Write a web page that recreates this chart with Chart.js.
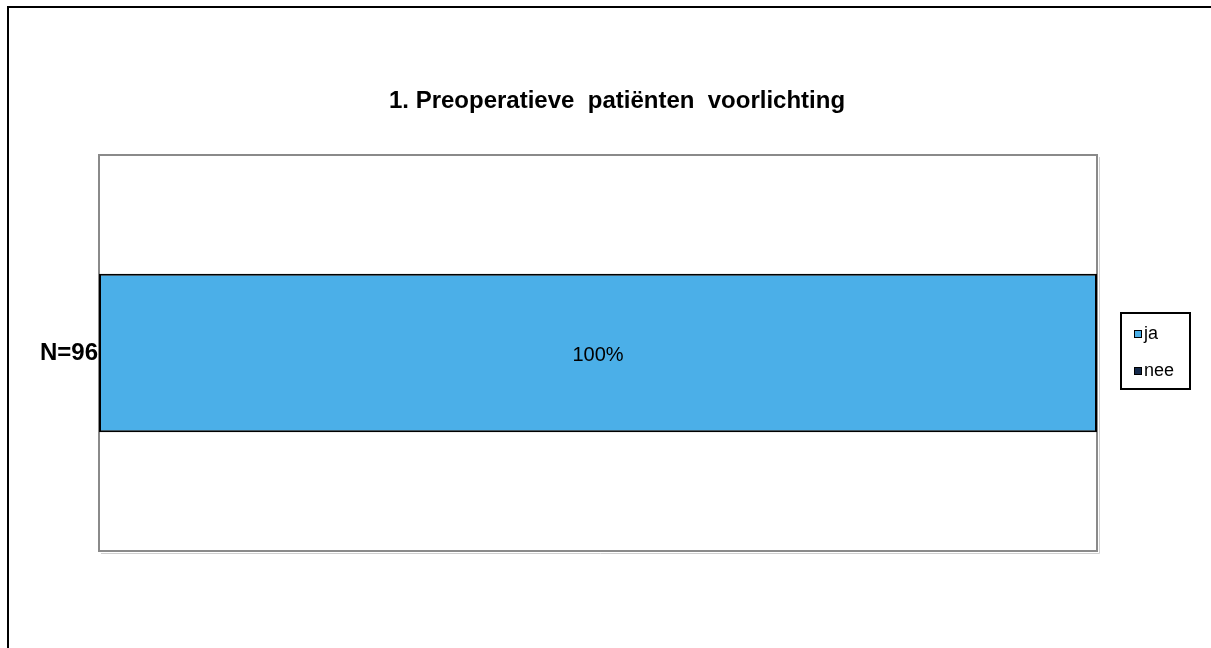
<!DOCTYPE html>
<html>
<head>
<meta charset="utf-8">
<style>
  html, body { margin: 0; padding: 0; background: #ffffff; }
  #wrap { width: 1211px; height: 648px; position: relative; }
</style>
<script src="https://cdn.jsdelivr.net/npm/chart.js@4/dist/chart.umd.min.js"></script>
</head>
<body>
<div id="wrap"><canvas id="c" width="1211" height="648"></canvas></div>
<script>
const chartTitle = "1. Preoperatieve  patiënten  voorlichting";
const categories = ["N=96"];
const seriesNames = ["ja", "nee"];
const jaValues = [100];
const neeValues = [0];
const seriesColors = ["#4BAFE8", "#14294A"];

const FONT = "Arial, 'Liberation Sans', sans-serif";

const framePlugin = {
  id: 'framePlugin',
  beforeDatasetsDraw(chart) {
    const ctx = chart.ctx;
    const a = chart.chartArea;
    ctx.save();
    // outer frame
    ctx.strokeStyle = '#000';
    ctx.lineWidth = 2;
    ctx.strokeRect(8, 7, 1240, 680);
    // plot area shadow + border
    ctx.strokeStyle = '#d0d0d0';
    ctx.lineWidth = 1;
    ctx.beginPath();
    ctx.moveTo(a.right + 2.5, a.top + 2);
    ctx.lineTo(a.right + 2.5, a.bottom + 2.5);
    ctx.lineTo(a.left + 2, a.bottom + 2.5);
    ctx.stroke();
    ctx.strokeStyle = '#8a8a8a';
    ctx.lineWidth = 2;
    ctx.strokeRect(a.left, a.top, a.right - a.left, a.bottom - a.top);
    // title
    ctx.fillStyle = '#000';
    ctx.font = 'bold 24px ' + FONT;
    ctx.textAlign = 'center';
    ctx.textBaseline = 'middle';
    ctx.fillText(chartTitle, 617, 101);
    ctx.restore();
  },
  afterDatasetsDraw(chart) {
    const ctx = chart.ctx;
    ctx.save();
    // value labels
    ctx.font = '20px ' + FONT;
    ctx.fillStyle = '#000';
    ctx.textAlign = 'center';
    ctx.textBaseline = 'middle';
    chart.data.datasets.forEach((ds, di) => {
      const meta = chart.getDatasetMeta(di);
      meta.data.forEach((el, i) => {
        const v = ds.data[i];
        if (!v) return;
        const cx = (el.x + el.base) / 2;
        ctx.fillText(v + '%', cx, el.y + 2);
      });
    });
    // legend
    const lx = 1121, ly = 313, lw = 69, lh = 76;
    ctx.strokeStyle = '#000';
    ctx.lineWidth = 2;
    ctx.strokeRect(lx, ly, lw, lh);
    ctx.font = '18px ' + FONT;
    ctx.textAlign = 'left';
    chart.data.datasets.forEach((ds, di) => {
      const cy = 334 + di * 37;
      ctx.fillStyle = ds.backgroundColor;
      ctx.fillRect(1134, cy - 4, 8, 8);
      ctx.lineWidth = 1;
      ctx.strokeStyle = '#000';
      ctx.strokeRect(1134.5, cy - 3.5, 7, 7);
      ctx.fillStyle = '#000';
      ctx.fillText(ds.label, 1144, cy);
    });
    ctx.restore();
  }
};

new Chart(document.getElementById('c'), {
  type: 'bar',
  data: {
    labels: categories,
    datasets: [
      { label: seriesNames[0], data: jaValues, backgroundColor: seriesColors[0], borderColor: '#000', borderWidth: 2, borderSkipped: false },
      { label: seriesNames[1], data: neeValues, backgroundColor: seriesColors[1], borderColor: '#000', borderWidth: 2, borderSkipped: false }
    ]
  },
  options: {
    indexAxis: 'y',
    responsive: false,
    animation: false,
    devicePixelRatio: 1,
    layout: { padding: { left: 0, top: 155, right: 114, bottom: 97 } },
    datasets: { bar: { categoryPercentage: 1.0, barPercentage: 0.4 } },
    plugins: { legend: { display: false }, title: { display: false }, tooltip: { enabled: false } },
    scales: {
      x: { stacked: true, min: 0, max: 100, display: false },
      y: {
        stacked: true,
        grid: { display: false, drawTicks: false },
        border: { display: false },
        ticks: { color: '#000', font: { family: FONT, size: 24, weight: 'bold' }, padding: 1 },
        afterFit(scale) { scale.width = 99; }
      }
    }
  },
  plugins: [framePlugin]
});
</script>
</body>
</html>
